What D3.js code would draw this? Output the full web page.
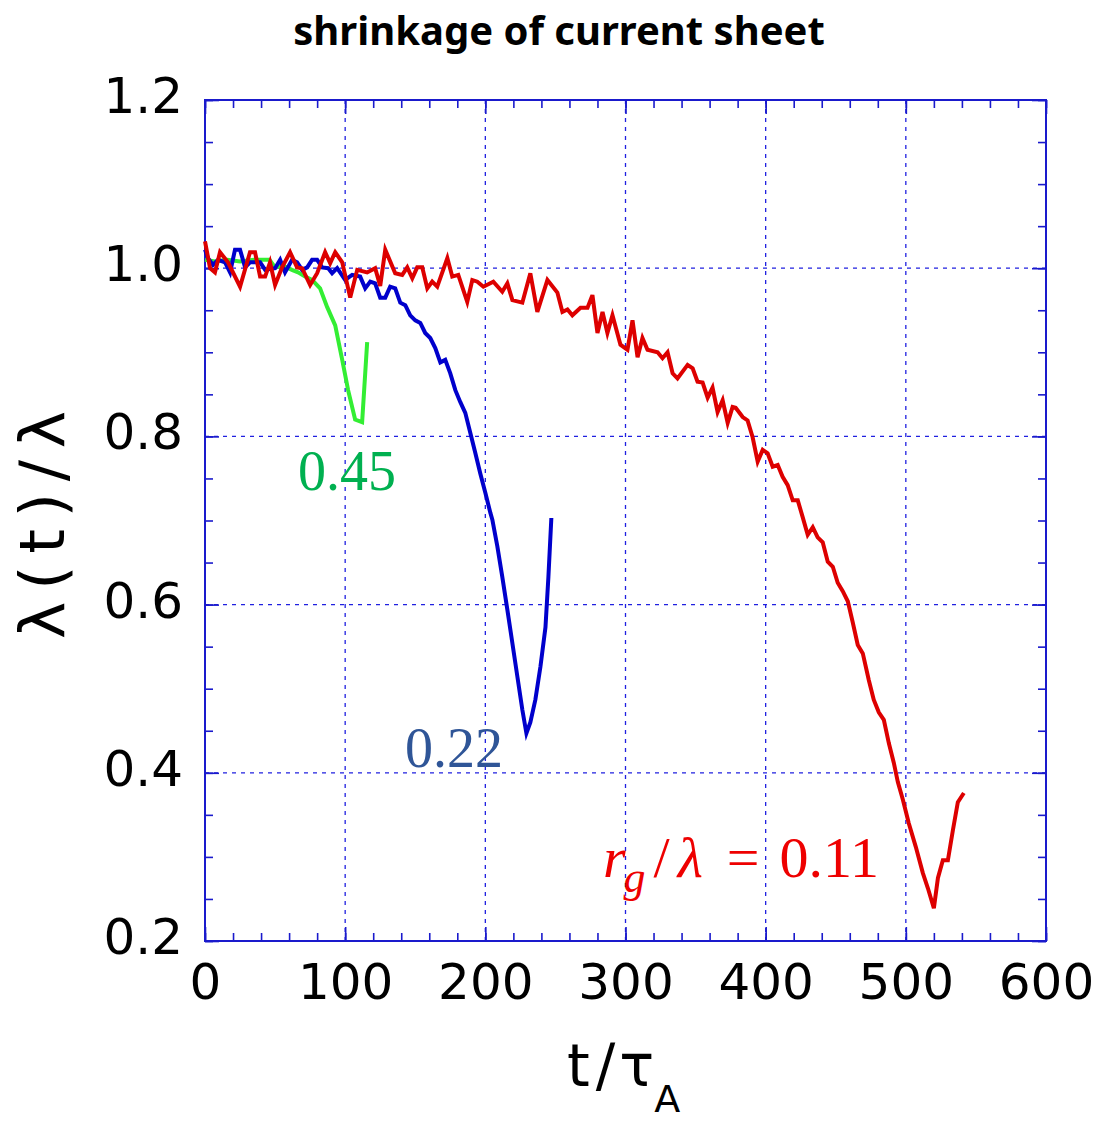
<!DOCTYPE html>
<html>
<head>
<meta charset="utf-8">
<script src="https://cdn.jsdelivr.net/npm/d3@7"></script>
<style>
  body { margin: 0; background: #fff; }
  svg { display: block; }
</style>
</head>
<body>
<script>
// ---- data: [t/tauA, lambda(t)/lambda] ----
var red_011 = [
  [0,1.032],[3.6,1.000],[7.1,0.995],[10.7,1.019],[16.4,1.007],[25,0.978],[32.1,1.019],[35.7,1.019],
  [39.3,0.990],[42.9,0.990],[46.4,1.007],[50,0.980],[55,1.001],[60.7,1.019],[65.7,1.001],[69.3,1.000],
  [75,0.980],[80,0.994],[85.7,1.019],[89.3,1.006],[92.9,1.019],[97.9,1.007],[103.6,0.965],[108.6,0.998],
  [115.7,0.995],[121.4,1.000],[125,0.979],[128.6,1.022],[135.7,0.994],[140.7,0.992],[144.3,1.001],[147.9,0.988],
  [151.4,1.001],[155,1.001],[158.6,0.976],[162.1,0.984],[165.7,0.978],[172.9,1.012],[176.4,0.990],[180.7,0.992],
  [187.1,0.960],[190.7,0.986],[194.3,0.984],[198.6,0.978],[205.7,0.984],[212.1,0.972],[215.7,0.982],[219.3,0.962],
  [226.4,0.959],[232.1,0.994],[237.1,0.948],[244.3,0.986],[251.4,0.971],[255,0.948],[258.6,0.951],[262.1,0.944],
  [267.9,0.953],[272.9,0.953],[276.4,0.968],[280,0.923],[283.6,0.948],[287.1,0.923],[290.7,0.944],[296.4,0.909],
  [301.4,0.903],[305,0.938],[308.6,0.894],[312.1,0.917],[315.7,0.903],[322.9,0.900],[326.4,0.893],[330,0.900],
  [333.6,0.875],[337.1,0.869],[344.3,0.885],[347.9,0.881],[351.4,0.865],[355,0.864],[358.6,0.846],[362.1,0.858],
  [365.7,0.829],[369.3,0.843],[372.9,0.816],[376.4,0.835],[378.6,0.834],[383.6,0.823],[387.1,0.819],[390.7,0.799],
  [394.3,0.770],[397.9,0.784],[401.4,0.780],[405,0.764],[408.6,0.766],[412.1,0.752],[415.7,0.742],[419.3,0.724],
  [422.9,0.724],[426.4,0.704],[430,0.683],[433.6,0.692],[437.1,0.680],[440.7,0.674],[444.3,0.651],[447.9,0.645],
  [451.4,0.626],[455,0.616],[458.6,0.604],[462.1,0.579],[465.7,0.552],[469.3,0.542],[473.6,0.510],[477.1,0.487],
  [480.7,0.472],[484.3,0.463],[487.9,0.435],[491.4,0.412],[494.3,0.389],[497.9,0.368],[502.1,0.340],[507.1,0.312],
  [512.1,0.281],[515.7,0.263],[520,0.239],[522.9,0.275],[526.4,0.296],[530,0.296],[533.6,0.332],[537.1,0.365],
  [541.4,0.376]
];
var blue_022 = [
  [0,1.022],[2.1,1.012],[5.7,1.004],[9.3,1.010],[14.3,1.007],[17.9,0.995],[21.4,1.022],[25,1.022],
  [28.6,1.001],[32.1,1.007],[39.3,1.007],[42.9,0.998],[50,1.000],[53.6,1.010],[57.1,0.995],[62.1,1.010],
  [65.7,1.007],[69.3,0.998],[72.9,1.001],[76.4,1.010],[80,1.010],[83.6,1.001],[87.9,1.000],[90.7,0.994],
  [94.3,1.000],[100,0.986],[105,0.992],[110.7,0.990],[114.3,0.976],[117.9,0.984],[121.4,0.982],[125,0.965],
  [128.6,0.965],[132.1,0.978],[135.7,0.976],[139.3,0.959],[142.9,0.956],[146.4,0.944],[150,0.938],[153.6,0.935],
  [157.1,0.923],[160.7,0.917],[164.3,0.905],[167.9,0.888],[171.4,0.891],[175,0.875],[178.6,0.855],[182.1,0.841],
  [185.7,0.828],[189.3,0.804],[192.9,0.780],[196.4,0.756],[200,0.733],[203.6,0.709],[205,0.701],[208.6,0.669],
  [212.1,0.633],[215.7,0.594],[219.3,0.554],[222.9,0.514],[226.4,0.475],[229.3,0.447],[232.1,0.460],[235.7,0.487],
  [239.3,0.526],[242.9,0.573],[245,0.633],[247.1,0.703]
];
var green_045 = [
  [0,1.010],[7,1.008],[16,1.010],[25,1.008],[35,1.010],[46,1.010],[50,1.001],[55.7,1.003],[62,0.998],
  [66.4,0.995],[71.4,0.990],[76.4,0.986],[82.1,0.976],[87.1,0.954],[92.9,0.932],[97.9,0.891],[102.1,0.855],
  [107.1,0.820],[112.1,0.817],[115.7,0.912]
];

var x_major = [0, 100, 200, 300, 400, 500, 600];
var y_major = [0.2, 0.4, 0.6, 0.8, 1.0, 1.2];
var x_minor = d3.range(0, 601, 20);
var y_minor = d3.range(0.2, 1.2001, 0.05);

var title_text = "shrinkage of current sheet";

var W = 1102, H = 1122;
var margin = {left: 205, top: 100, right: 56, bottom: 181};
var width  = W - margin.left - margin.right;
var height = H - margin.top - margin.bottom;

var x = d3.scaleLinear().domain([0, 600]).range([0, width]);
var y = d3.scaleLinear().domain([0.2, 1.2]).range([height, 0]);

var frame_col = "#1a1acc";
var sans  = "'DejaVu Sans', 'Liberation Sans', sans-serif";
var serif = "'Liberation Serif', 'DejaVu Serif', serif";

var root = d3.select("body").append("svg")
    .attr("width", W).attr("height", H);
var svg = root.append("g")
    .attr("transform", "translate(" + margin.left + "," + margin.top + ")");

// grid
svg.append("g").attr("class", "grid")
    .selectAll("line").data(x_major.slice(1, -1)).enter().append("line")
    .attr("x1", d => x(d)).attr("x2", d => x(d))
    .attr("y1", 0).attr("y2", height)
    .attr("stroke", "#2020e0").attr("stroke-width", 1.3).attr("stroke-dasharray", "4,5");
svg.append("g").attr("class", "grid")
    .selectAll("line").data(y_major.slice(1, -1)).enter().append("line")
    .attr("y1", d => y(d)).attr("y2", d => y(d))
    .attr("x1", 0).attr("x2", width)
    .attr("stroke", "#2020e0").attr("stroke-width", 1.3).attr("stroke-dasharray", "4,5");

// ticks pointing inwards on all four sides
function tick_axis(axis, tf) {
    var g = svg.append("g").attr("transform", tf).call(axis);
    g.select(".domain").remove();
    g.selectAll("line").attr("stroke", frame_col).attr("stroke-width", 1.6);
    return g;
}
tick_axis(d3.axisBottom(x).tickValues(x_minor).tickFormat("").tickSize(-8), "translate(0," + height + ")");
tick_axis(d3.axisTop(x).tickValues(x_minor).tickFormat("").tickSize(-8), "translate(0,0)");
tick_axis(d3.axisLeft(y).tickValues(y_minor).tickFormat("").tickSize(-8), "translate(0,0)");
tick_axis(d3.axisRight(y).tickValues(y_minor).tickFormat("").tickSize(-8), "translate(" + width + ",0)");
tick_axis(d3.axisTop(x).tickValues(x_major).tickFormat("").tickSize(-14), "translate(0,0)");
tick_axis(d3.axisRight(y).tickValues(y_major).tickFormat("").tickSize(-14), "translate(" + width + ",0)");

var xa = tick_axis(d3.axisBottom(x).tickValues(x_major).tickSize(-14).tickPadding(22), "translate(0," + height + ")");
var ya = tick_axis(d3.axisLeft(y).tickValues(y_major).tickFormat(d3.format(".1f")).tickSize(-14).tickPadding(22), "translate(0,0)");
[xa, ya].forEach(function(g) {
    g.selectAll("text").attr("fill", "#000")
        .style("font-family", sans).style("font-size", "50px");
});
ya.selectAll("text").attr("dy", "0.25em");

// frame
svg.append("rect").attr("width", width).attr("height", height)
    .attr("fill", "none").attr("stroke", frame_col).attr("stroke-width", 2);

// curves
var line = d3.line().x(d => x(d[0])).y(d => y(d[1]));
var series = [
    {data: green_045, col: "#33ee33"},
    {data: blue_022,  col: "#0000cc"},
    {data: red_011,   col: "#dd0000"}
];
series.forEach(function(s) {
    svg.append("path").datum(s.data)
        .attr("d", line).attr("fill", "none")
        .attr("stroke", s.col).attr("stroke-width", 4)
        .attr("stroke-linejoin", "miter");
});

// curve labels
svg.append("text").attr("x", 93).attr("y", 390)
    .style("font-family", serif).style("font-size", "56px").attr("fill", "#00b050").text("0.45");
svg.append("text").attr("x", 200).attr("y", 667)
    .style("font-family", serif).style("font-size", "56px").attr("fill", "#2f5597").text("0.22");
var rl = svg.append("text").attr("x", 398).attr("y", 777)
    .style("font-family", serif).style("font-size", "58px").attr("fill", "#ee0000");
rl.append("tspan").style("font-style", "italic").text("r");
rl.append("tspan").style("font-style", "italic").style("font-size", "44px").attr("dx", -2).attr("dy", 15).text("g");
rl.append("tspan").attr("dx", 8).attr("dy", -15).text("/");
rl.append("tspan").attr("dx", 8).style("font-style", "italic").text("λ");
rl.append("tspan").attr("dx", 24).text("=");
rl.append("tspan").attr("dx", 20).text("0.11");

// axis titles
root.append("text")
    .attr("transform", "translate(64,525) rotate(-90)")
    .attr("textLength", 228).attr("lengthAdjust", "spacing")
    .style("text-anchor", "middle").style("font-family", sans).style("font-size", "63px")
    .text("λ(t)/λ");
var xt = root.append("text").attr("x", 567).attr("y", 1086)
    .style("font-family", sans).style("font-size", "58px");
xt.append("tspan").text("t");
xt.append("tspan").attr("dx", 6).text("/");
xt.append("tspan").attr("dx", 4).text("τ");
xt.append("tspan").attr("dy", 26).style("font-size", "38px").text("A");

// title
root.append("text").attr("x", 559).attr("y", 45)
    .style("text-anchor", "middle").style("font-family", "'Noto Sans', sans-serif")
    .style("font-weight", "bold").style("font-size", "40px")
    .text(title_text);
</script>
</body>
</html>
